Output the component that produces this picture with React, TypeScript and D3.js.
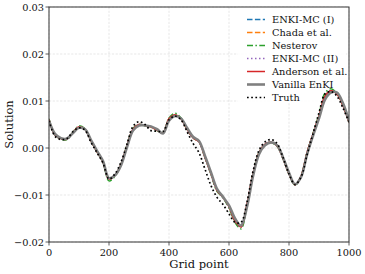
import React from 'react';
import * as d3 from 'd3';

// grid positions (every 20 points)
const gridPoints = d3.range(0, 1001, 20);

// shared estimate for ENKI-MC (I), Chada et al., ENKI-MC (II), Anderson et al.
const estimate = [
  0.0060, 0.0028, 0.0020, 0.0019, 0.0033, 0.0045, 0.0040, 0.0015, -0.0008, -0.0030,
  -0.0066, -0.0058, -0.0035, 0.0005, 0.0040, 0.0050, 0.0048, 0.0045, 0.0038, 0.0032,
  0.0062, 0.0070, 0.0062, 0.0040, 0.0022, 0.0013, -0.0020, -0.0055, -0.0090, -0.0105,
  -0.0125, -0.0155, -0.0168, -0.0120, -0.0055, -0.0010, 0.0008, 0.0012, 0.0005, -0.0022,
  -0.0055, -0.0078, -0.0060, -0.0010, 0.0030, 0.0068, 0.0110, 0.0122, 0.0115, 0.0090,
  0.0055,
];

const nesterov = [
  0.0062, 0.0028, 0.0019, 0.0018, 0.0034, 0.0047, 0.0041, 0.0015, -0.0008, -0.0031,
  -0.0070, -0.0060, -0.0035, 0.0006, 0.0042, 0.0050, 0.0047, 0.0044, 0.0037, 0.0033,
  0.0064, 0.0074, 0.0064, 0.0040, 0.0022, 0.0014, -0.0020, -0.0056, -0.0092, -0.0106,
  -0.0128, -0.0158, -0.0172, -0.0122, -0.0055, -0.0010, 0.0007, 0.0011, 0.0004, -0.0023,
  -0.0056, -0.0079, -0.0060, -0.0010, 0.0031, 0.0072, 0.0117, 0.0126, 0.0116, 0.0090,
  0.0055,
];

const vanilla = [
  0.0058, 0.0030, 0.0021, 0.0020, 0.0032, 0.0043, 0.0040, 0.0017, -0.0006, -0.0028,
  -0.0064, -0.0058, -0.0037, 0.0002, 0.0037, 0.0048, 0.0048, 0.0046, 0.0040, 0.0031,
  0.0058, 0.0068, 0.0063, 0.0043, 0.0024, 0.0015, -0.0017, -0.0052, -0.0087, -0.0104,
  -0.0122, -0.0150, -0.0165, -0.0125, -0.0060, -0.0013, 0.0006, 0.0012, 0.0006, -0.0020,
  -0.0053, -0.0077, -0.0062, -0.0014, 0.0026, 0.0063, 0.0103, 0.0118, 0.0118, 0.0095,
  0.0058,
];

const truth = [
  0.0058, 0.0025, 0.0018, 0.0020, 0.0035, 0.0043, 0.0038, 0.0012, -0.0010, -0.0032,
  -0.0066, -0.0055, -0.0030, 0.0008, 0.0046, 0.0056, 0.0050, 0.0037, 0.0036, 0.0035,
  0.0060, 0.0068, 0.0060, 0.0035, 0.0010, -0.0010, -0.0045, -0.0080, -0.0105, -0.0120,
  -0.0140, -0.0158, -0.0158, -0.0115, -0.0050, -0.0005, 0.0013, 0.0018, 0.0010, -0.0020,
  -0.0055, -0.0078, -0.0062, -0.0015, 0.0030, 0.0075, 0.0115, 0.0120, 0.0110, 0.0085,
  0.0055,
];

const xTicks = [0, 200, 400, 600, 800, 1000];
const yTicks = [-0.02, -0.01, 0, 0.01, 0.02, 0.03];

const series = [
  { name: 'ENKI-MC (I)', values: estimate, color: '#1f77b4', width: 1.5, dash: '5.5,2.4' },
  { name: 'Chada et al.', values: estimate, color: '#ff7f0e', width: 1.5, dash: '5.5,2.4' },
  { name: 'Nesterov', values: nesterov, color: '#2ca02c', width: 1.5, dash: '6,2.4,1.5,2.4' },
  { name: 'ENKI-MC (II)', values: estimate, color: '#9467bd', width: 1.5, dash: '1.5,2.5' },
  { name: 'Anderson et al.', values: estimate, color: '#d62728', width: 1.5, dash: null },
  { name: 'Vanilla EnKI', values: vanilla, color: '#808080', width: 2.6, dash: null },
  { name: 'Truth', values: truth, color: '#000000', width: 1.7, dash: '1.7,2.5' },
];

const FONT = 'DejaVu Serif';

export default function App() {
  const width = 365;
  const height = 274;
  const margin = { top: 7, right: 16, bottom: 32, left: 49 };

  const x = d3.scaleLinear().domain([0, 1000]).range([margin.left, width - margin.right]);
  const y = d3.scaleLinear().domain([-0.02, 0.03]).range([height - margin.bottom, margin.top]);

  const line = (vals: number[]) =>
    d3.line<number>()
      .x((_, i) => x(gridPoints[i]))
      .y(d => y(d))
      .curve(d3.curveCatmullRom.alpha(0.5))(vals) || '';

  const fmt = (t: number) => (t < 0 ? '\u2212' : '') + Math.abs(t).toFixed(2);

  const legendX = 238;
  const legendY = 10;
  const rowH = 13;

  return (
    <svg width={width} height={height} style={{ position: 'absolute', left: 0, top: 0, background: '#fff' }}>
      {/* grid */}
      {xTicks.map(t => (
        <line key={'gx' + t} x1={x(t)} x2={x(t)} y1={margin.top} y2={height - margin.bottom}
          stroke="#b0b0b0" strokeOpacity={0.5} strokeWidth={0.6} strokeDasharray="2.2,1.5" />
      ))}
      {yTicks.map(t => (
        <line key={'gy' + t} x1={margin.left} x2={width - margin.right} y1={y(t)} y2={y(t)}
          stroke="#b0b0b0" strokeOpacity={0.5} strokeWidth={0.6} strokeDasharray="2.2,1.5" />
      ))}

      <defs>
        <clipPath id="plot">
          <rect x={margin.left} y={margin.top} width={width - margin.left - margin.right}
            height={height - margin.top - margin.bottom} />
        </clipPath>
      </defs>

      {/* legend background (behind the curves) */}
      <rect x={legendX} y={legendY - 3} width={108} height={rowH * 7 + 4} fill="#fff" fillOpacity={0.85} />

      {/* series */}
      <g clipPath="url(#plot)">
        {series.map(s => (
          <path key={s.name} d={line(s.values)} fill="none" stroke={s.color}
            strokeWidth={s.width} strokeDasharray={s.dash || undefined} />
        ))}
      </g>

      {/* legend */}
      {series.map((s, i) => {
        const yy = legendY + 9.5 + i * rowH;
        return (
          <g key={'lg' + s.name}>
            <line x1={legendX + 9} x2={legendX + 27} y1={yy} y2={yy} stroke={s.color}
              strokeWidth={s.width} strokeDasharray={s.dash || undefined} />
            <text x={legendX + 34} y={yy + 3.5} fontFamily={FONT} fontSize={9.8} fill="#111">{s.name}</text>
          </g>
        );
      })}

      {/* spines */}
      <rect x={margin.left} y={margin.top} width={width - margin.left - margin.right}
        height={height - margin.top - margin.bottom} fill="none" stroke="#333" strokeWidth={1} />

      {/* x ticks */}
      {xTicks.map(t => (
        <g key={'xt' + t}>
          <line x1={x(t)} x2={x(t)} y1={height - margin.bottom} y2={height - margin.bottom + 3.5} stroke="#333" strokeWidth={0.8} />
          <text x={x(t)} y={height - margin.bottom + 13.5} textAnchor="middle" fontFamily={FONT} fontSize={9.8} fill="#111">{t}</text>
        </g>
      ))}
      {/* y ticks */}
      {yTicks.map(t => (
        <g key={'yt' + t}>
          <line x1={margin.left - 3.5} x2={margin.left} y1={y(t)} y2={y(t)} stroke="#333" strokeWidth={0.8} />
          <text x={margin.left - 5} y={y(t) + 3.5} textAnchor="end" fontFamily={FONT} fontSize={9.8} fill="#111">{fmt(t)}</text>
        </g>
      ))}

      {/* axis labels */}
      <text x={(margin.left + width - margin.right) / 2} y={height - 6} textAnchor="middle"
        fontFamily={FONT} fontSize={11.5} fill="#111">Grid point</text>
      <text transform={`translate(13,${(margin.top + height - margin.bottom) / 2}) rotate(-90)`}
        textAnchor="middle" fontFamily={FONT} fontSize={11.5} fill="#111">Solution</text>
    </svg>
  );
}
